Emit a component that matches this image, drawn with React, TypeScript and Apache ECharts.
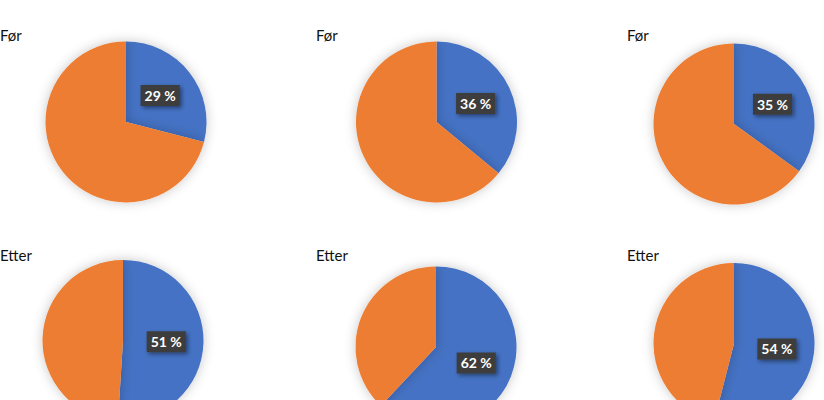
import React, { useEffect, useRef } from 'react';
import * as echarts from 'echarts';

const categories = ['Andel', 'Resten'];
const panelTitles = ['Før', 'Før', 'Før', 'Etter', 'Etter', 'Etter'];
const shareValues = [29, 36, 35, 51, 62, 54];
const restValues = [71, 64, 65, 49, 38, 46];

const centers = [
  [126, 122], [436.5, 122], [734, 124],
  [123, 340.5], [436, 347], [734, 343.5],
];
const titlePos = [
  [0, 27], [316, 27], [627, 27],
  [0, 247], [316, 247], [627, 247],
];

const App: React.FC = () => {
  const chartRef = useRef<HTMLDivElement>(null);

  useEffect(() => {
    const chart = echarts.init(chartRef.current, null, { renderer: 'svg' });

    const series = shareValues.map((v, i) => ({
      type: 'pie',
      center: centers[i],
      radius: 80.5,
      startAngle: 90,
      clockwise: true,
      silent: true,
      labelLine: { show: false },
      itemStyle: {
        shadowBlur: 12,
        shadowColor: 'rgba(0,0,0,0.22)',
      },
      label: {
        show: true,
        position: 'inside',
        formatter: (p: any) => `${p.value} %`,
        color: '#fff',
        fontFamily: 'Lato',
        fontWeight: 'bold',
        fontSize: 14,
        backgroundColor: '#3d3d3d',
        padding: [4, 4, 3, 4],
        shadowBlur: 4,
        shadowOffsetX: 2,
        shadowOffsetY: 2,
        shadowColor: 'rgba(0,0,0,0.45)',
      },
      data: [
        { name: categories[0], value: v, itemStyle: { color: '#4472C4' } },
        { name: categories[1], value: restValues[i], itemStyle: { color: '#ED7D31' }, label: { show: false } },
      ],
    }));

    const option = {
      animation: false,
      title: panelTitles.map((t, i) => ({
        text: t,
        left: titlePos[i][0],
        top: titlePos[i][1],
        padding: 0,
        textStyle: { fontFamily: 'Lato', fontSize: 15, fontWeight: 'normal', color: '#111' },
      })),
      series,
    };

    chart.setOption(option);

    return () => {
      chart.dispose();
    };
  }, []);

  return (
    <div
      ref={chartRef}
      style={{ position: 'fixed', left: 0, top: 0, width: '824px', height: '400px', background: '#fff' }}
    />
  );
};

export default App;
